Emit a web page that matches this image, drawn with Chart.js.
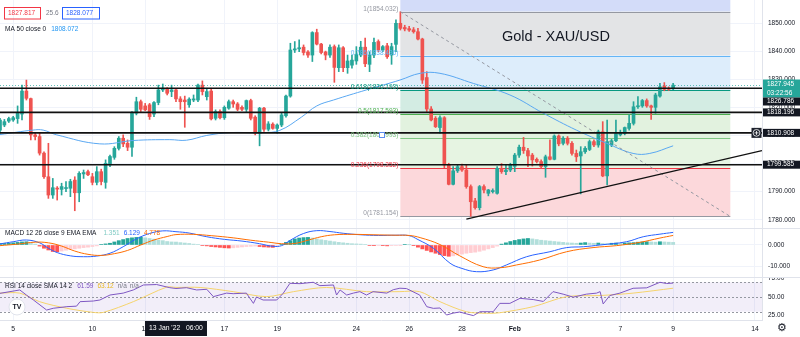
<!DOCTYPE html>
<html>
<head>
<meta charset="utf-8">
<script src="https://cdn.jsdelivr.net/npm/chart.js@4.4.1/dist/chart.umd.min.js"></script>
<style>
html, body { margin: 0; padding: 0; background: #fff; }
#wrap { position: relative; width: 800px; height: 337px; overflow: hidden; }
canvas { position: absolute; left: 0; }
</style>
</head>
<body>
<div id="wrap">
  <canvas id="price" width="800" height="228" style="top:0"></canvas>
  <canvas id="macd" width="800" height="49" style="top:228px"></canvas>
  <canvas id="rsi" width="800" height="60" style="top:277px"></canvas>
</div>
<script>
// ---- data (4h candles, index 0 = left edge) ----
// [open, high, low, close]
const ohlc = [
  [1811.9,1816.1,1810.8,1815.5],[1813.7,1815.7,1813.1,1814.9],[1815.1,1816.5,1814.6,1816.0],[1815.5,1816.8,1815.0,1816.3],
  [1816.0,1820.5,1814.3,1817.9],[1817.6,1827.9,1815.5,1825.8],[1825.8,1829.7,1822.6,1823.2],[1823.1,1823.3,1808.4,1810.2],
  [1810.2,1810.8,1808.4,1809.6],[1809.6,1810.8,1803.0,1803.7],[1803.7,1804.2,1794.7,1795.3],[1795.3,1807.2,1787.6,1788.8],
  [1788.8,1794.7,1787.6,1791.4],[1791.2,1791.8,1787.0,1790.9],[1790.8,1793.0,1788.8,1791.8],[1791.1,1793.6,1790.0,1791.3],
  [1791.2,1794.4,1788.2,1793.6],[1794.1,1795.3,1783.2,1789.6],[1789.6,1797.1,1786.4,1796.5],[1796.3,1797.7,1794.7,1796.8],
  [1797.1,1797.7,1795.7,1796.0],[1795.3,1796.5,1792.4,1793.3],[1793.3,1798.9,1792.4,1797.1],[1797.1,1798.0,1792.4,1793.6],
  [1793.3,1801.3,1791.2,1800.1],[1799.5,1803.0,1798.9,1802.5],[1802.2,1806.0,1801.5,1805.4],[1805.4,1809.6,1804.8,1809.0],
  [1809.0,1810.2,1806.0,1807.0],[1807.2,1808.4,1804.6,1805.8],[1805.8,1818.5,1802.5,1817.9],[1817.9,1823.6,1817.3,1822.0],
  [1822.0,1822.6,1818.5,1819.3],[1820.5,1821.4,1818.8,1819.1],[1820.9,1821.4,1815.7,1816.7],[1817.6,1822.0,1816.7,1821.7],
  [1821.7,1827.9,1820.9,1826.2],[1826.2,1828.3,1825.6,1826.8],[1826.4,1827.0,1824.4,1825.0],[1825.6,1827.9,1823.8,1826.2],
  [1826.2,1826.8,1822.0,1823.0],[1823.0,1823.8,1819.3,1822.0],[1822.6,1824.0,1812.9,1822.0],[1820.9,1823.4,1820.0,1822.9],
  [1822.6,1824.4,1822.0,1823.0],[1822.6,1828.3,1822.0,1827.9],[1827.9,1829.4,1824.4,1825.6],[1823.8,1826.8,1822.6,1825.6],
  [1825.8,1826.8,1815.5,1815.9],[1816.1,1819.1,1815.5,1818.5],[1818.5,1819.1,1815.9,1816.3],[1816.3,1820.5,1815.7,1820.0],
  [1819.7,1822.6,1819.3,1822.0],[1822.0,1822.6,1820.0,1821.2],[1821.2,1821.7,1818.8,1819.3],[1820.0,1820.5,1818.8,1819.3],
  [1819.3,1822.6,1818.5,1822.4],[1822.4,1822.9,1815.5,1816.1],[1816.5,1817.0,1810.2,1810.8],[1810.8,1820.0,1806.3,1819.7],
  [1819.7,1820.0,1811.4,1812.2],[1812.2,1814.9,1811.6,1814.1],[1814.0,1814.5,1812.2,1812.5],[1812.5,1814.1,1810.8,1813.7],
  [1813.7,1817.9,1813.1,1817.3],[1817.0,1824.4,1816.5,1824.0],[1824.0,1842.8,1823.6,1840.4],[1840.4,1843.4,1839.5,1840.8],
  [1840.8,1844.0,1839.8,1841.2],[1841.4,1842.2,1838.6,1839.5],[1839.7,1840.2,1837.8,1838.6],[1838.6,1846.9,1836.3,1846.6],
  [1846.6,1847.8,1842.2,1842.5],[1842.5,1842.8,1839.0,1839.5],[1839.7,1840.0,1836.9,1838.6],[1838.6,1842.2,1837.8,1841.4],
  [1841.6,1842.2,1828.9,1834.2],[1834.1,1842.2,1832.7,1841.2],[1841.2,1841.6,1832.7,1834.1],[1834.1,1838.6,1832.1,1836.5],
  [1835.0,1838.6,1833.9,1836.8],[1836.5,1841.6,1835.3,1838.9],[1838.6,1843.5,1838.0,1841.4],[1841.4,1844.6,1834.5,1835.5],
  [1835.3,1839.8,1832.7,1838.6],[1838.6,1844.6,1837.7,1843.1],[1843.4,1844.0,1839.8,1840.4],[1840.4,1842.0,1839.8,1841.6],
  [1841.9,1842.8,1837.4,1838.0],[1838.6,1842.8,1835.3,1841.6],[1842.4,1851.1,1839.8,1849.9],[1849.9,1854.0,1847.5,1848.1],
  [1848.4,1849.2,1847.2,1847.9],[1848.0,1848.8,1847.0,1847.5],[1847.6,1848.4,1846.4,1846.9],[1846.9,1848.1,1844.0,1844.3],
  [1844.3,1844.6,1828.5,1829.7],[1830.6,1832.7,1818.5,1819.4],[1819.4,1820.3,1815.2,1815.5],[1816.1,1816.7,1812.8,1813.1],
  [1812.8,1817.0,1810.8,1816.3],[1816.3,1816.7,1798.5,1799.5],[1799.7,1800.1,1792.4,1792.6],[1792.6,1798.9,1792.4,1797.4],
  [1797.4,1799.5,1796.8,1798.9],[1798.9,1799.8,1797.2,1797.7],[1797.7,1799.5,1791.2,1791.8],[1791.8,1792.4,1781.2,1786.4],
  [1786.7,1787.6,1783.8,1784.3],[1784.3,1792.2,1783.5,1791.8],[1791.8,1792.4,1789.5,1790.6],[1789.4,1790.8,1788.5,1790.6],
  [1790.0,1791.0,1789.5,1790.4],[1789.4,1798.9,1789.1,1798.3],[1798.3,1800.0,1796.5,1797.1],[1797.1,1799.5,1796.0,1797.7],
  [1797.7,1800.1,1797.1,1799.5],[1799.0,1803.6,1797.1,1803.0],[1803.0,1806.6,1802.2,1805.8],[1805.8,1809.3,1803.6,1804.6],
  [1804.6,1805.4,1798.9,1802.7],[1803.0,1803.6,1799.1,1801.3],[1801.5,1802.0,1800.2,1800.7],[1800.7,1801.3,1798.3,1798.9],
  [1798.9,1803.0,1795.1,1802.4],[1802.4,1808.4,1801.3,1801.5],[1801.5,1810.2,1801.3,1809.8],[1809.8,1810.2,1806.3,1807.0],
  [1807.2,1809.6,1806.6,1809.0],[1809.0,1809.6,1806.6,1807.2],[1807.2,1807.8,1803.0,1803.6],[1803.6,1804.8,1800.7,1802.4],
  [1802.7,1806.0,1789.2,1804.2],[1804.2,1806.0,1803.6,1805.4],[1805.0,1808.4,1804.6,1807.8],[1807.8,1808.4,1806.0,1806.6],
  [1806.6,1811.9,1805.8,1811.3],[1811.3,1814.9,1795.3,1795.6],[1795.6,1815.5,1792.4,1807.8],[1806.6,1808.6,1806.0,1808.1],
  [1808.1,1815.5,1807.8,1810.7],[1810.2,1811.9,1809.8,1811.0],[1810.7,1813.0,1810.2,1812.8],[1812.5,1817.3,1811.9,1814.3],
  [1814.3,1822.0,1813.7,1820.2],[1820.2,1823.8,1819.6,1820.5],[1820.5,1822.8,1820.0,1822.4],[1822.4,1823.0,1820.0,1820.5],
  [1820.5,1820.8,1815.7,1820.0],[1820.0,1825.0,1817.9,1824.4],[1824.0,1828.5,1823.6,1827.3],[1827.6,1828.8,1825.9,1826.4],
  [1826.8,1827.3,1826.0,1826.4],[1826.6,1828.5,1826.3,1827.9]
];

// MA 50 (index, value)
const ma50 = [
  [0,1810.3],[7.5,1811.9],[9.8,1811.9],[12.9,1810.2],[22.7,1807.0],[30.3,1808.2],[38.6,1808.5],[42.4,1808.3],
  [47,1810.0],[52.3,1811.0],[59.8,1811.0],[63.6,1811.8],[68.5,1816.5],[72,1820.5],[75.8,1822.6],[83.3,1826.2],
  [90.9,1829.7],[95.5,1832.1],[100,1832.1],[107.6,1828.5],[115.9,1824.4],[123.5,1817.9],[131,1811.9],
  [137.9,1807.2],[143.9,1803.6],[147.7,1803.6],[153,1806.3]
];

// MACD 12 26 9
const macdLine = [
  [0,0.5],[3,1.5],[6,2.3],[9,1.0],[11,-1.5],[13,-3.5],[16,-5.0],[19,-5.4],[22,-5.1],[25,-3.8],[28,-0.8],
  [31,2.8],[34,5.3],[37,6.5],[40,6.13],[43,5.5],[47,3.8],[51,2.6],[55,1.8],[59,0.6],[62,-0.6],[64,-0.3],
  [66,2.2],[69,5.3],[72,6.6],[75,6.2],[78,5.4],[82,4.7],[86,4.4],[90,4.5],[93,4.3],[95,2.5],[98.5,-1.5],
  [102.3,-8.4],[105,-10.8],[108.3,-12.3],[112.1,-11.5],[115.1,-9.2],[119.7,-5.4],[125,-3.1],[128.8,-1.2],
  [132.6,-0.8],[136.4,0],[142.4,1.5],[146.2,3.8],[150,5.0],[153,5.8]
];
const signalLine = [
  [0,-0.3],[4,0.4],[8,1.3],[11,1.0],[14,-0.5],[17,-2.8],[20,-4.3],[23,-4.8],[26,-4.0],[29,-2.5],[32,0],
  [35,2.3],[38,3.9],[40,4.78],[44,4.9],[48,4.3],[53,3.3],[57,2.2],[61,1.3],[64,0.6],[67,0.7],[70,2.2],
  [73,3.8],[76,4.7],[80,4.9],[85,4.7],[90,4.5],[93,4.4],[95.5,3.4],[100,0.2],[104.5,-5.0],[109.8,-10.0],
  [113.6,-10.5],[117.4,-9.2],[122.7,-6.9],[128.8,-3.1],[134.8,-1.2],[140.1,-0.3],[145.4,1.2],[150,3.2],[153,4.4]
];
const histogram = [
  0.6,0.7,0.8,1.0,1.2,1.4,1.5,1.0,0.4,-0.5,-1.5,-2.3,-3.0,-3.1,-2.8,-2.4,-2.0,-1.8,-1.5,-1.2,
  -1.0,-0.7,-0.4,0.2,0.5,0.8,1.4,2.0,2.5,3.0,3.3,3.5,3.6,3.3,3.0,2.7,2.3,2.0,1.6,1.4,
  1.35,1.1,0.9,0.7,0.4,0.2,-0.2,-0.4,-0.7,-0.9,-1.1,-1.3,-1.4,-1.3,-1.1,-0.9,-0.7,-0.6,-0.5,-0.7,
  -0.9,-1.0,-1.1,-0.6,0.3,1.2,2.0,2.8,3.2,3.4,3.5,3.2,2.8,2.4,2.1,1.8,1.5,1.2,1.0,0.8,
  0.6,0.5,0.4,0.2,-0.2,-0.3,-0.2,-0.3,-0.4,-0.3,-0.2,-0.1,0.2,0.1,-0.3,-1.0,-1.8,-2.5,-3.2,-3.8,
  -4.4,-4.9,-5.2,-5.0,-4.6,-4.2,-3.8,-3.5,-3.3,-2.9,-2.4,-1.8,-1.2,-0.5,0.4,1.0,1.6,2.1,2.5,2.8,
  3.0,2.8,2.5,2.2,2.0,1.8,1.6,1.4,1.2,1.0,0.9,0.8,0.9,1.1,0.9,0.8,0.9,0.7,0.6,0.8,
  0.9,0.8,0.9,1.0,1.1,1.3,1.4,1.5,1.4,1.3,1.5,1.4,1.3,1.2
];

// RSI 14 and its SMA 14
const rsiLine = [
  [0,55],[4.5,59.6],[6,52.7],[7.6,45.9],[10.6,32.2],[12.1,34.6],[15.2,36.8],[17.4,37.5],[18.2,43.6],
  [21.2,44.5],[22.7,45.9],[25,52.7],[28,55.3],[30.3,59.6],[32.6,66.4],[35.6,67],[38.6,62.7],[40,61.6],
  [42.4,62.7],[44.7,59.6],[47,60.5],[48.5,50.5],[51.5,55.3],[53,54.5],[56,55.3],[57.6,41.3],[58.3,50],
  [59.8,45.9],[62.9,45.9],[64.4,55.3],[65.9,68.7],[68.2,68.2],[71.2,70.1],[72.7,65.5],[75.8,66.4],
  [76.5,52.7],[77.3,59.6],[78.8,52.7],[80.3,55.3],[81.8,57.3],[83.3,52.7],[84.8,57.3],[87.9,55.3],
  [89.4,60],[90.9,62],[92.4,61.5],[95.4,52.7],[97,36.8],[98.5,34.5],[100,35],[101.5,25.4],[103,28],
  [104.5,29.5],[106,27],[107.6,24.6],[109.1,29.9],[112.1,29.9],[113.6,41.3],[115.9,41.3],[118.2,48.2],
  [121.2,46.5],[123.5,43.9],[125.7,57.3],[128,53.9],[130.3,49.8],[133.3,53.9],[135.6,55.3],[136.4,57.3],
  [137.1,40.5],[138.6,52],[140.9,55.3],[143.9,61.9],[147,62.5],[150,70.1],[151.5,68.4],[153,69]
];
const rsiSma = [
  [0,55.3],[4.5,55.3],[9,43.6],[15.2,34.6],[21.2,29],[23.5,29],[30.3,43.6],[37.9,63.5],[40,63.1],
  [45.5,63],[53,57.3],[60.6,50.5],[66.7,57.3],[74.2,63],[83.3,57.3],[90.9,57.3],[95.4,57.3],[100,43.6],
  [106,29.9],[110.6,27.7],[113.6,28.5],[121.2,36.8],[128.8,50.5],[136.4,52],[143.9,55.3],[153,62]
];

// time axis
const tickIdx = [3, 21, 33, 51, 63, 81, 93, 105, 117, 129, 141, 153, 171.6];
const tickText = ['5', '10', '12', '17', '19', '24', '26', '28', 'Feb', '3', '7', '9', '14'];
const cursorIdx = 40;
const cursorText = "13 Jan '22   06:00";

// price levels
const priceTicks = [1780, 1790, 1800, 1810, 1820, 1830, 1840, 1850];
const fibRatios = ['1', '0.786', '0.618', '0.5', '0.382', '0.236', '0'];
const fibPrices = [1854.032, 1838.436, 1826.193, 1817.593, 1808.993, 1798.352, 1781.154];
const fibFrom = 91, fibTo = 166;
const hLines = [1826.786, 1818.196, 1810.908, 1799.585];
const trendLine = [[106, 1780.2], [173.2, 1804.6]];
const lastPrice = 1827.945;
const countdown = '03:22:56';

// ---- styles ----
const FONT = '"Liberation Sans", Arial, sans-serif';
const UP = '#26a69a', DN = '#ef5350';
const X_MAX = 173.2;
const fibTopFill = '#d3dcf9';
const fibFill = ['#e3e4e6', '#ddedfb', '#d3ece3', '#e2f2df', '#e6f4e2', '#fcd8db'];
const fibLine = ['#9598a1', '#64b5f6', '#089981', '#4caf50', '#81c784', '#f23645', '#9598a1'];

Chart.defaults.font.family = FONT;
Chart.defaults.animation = false;

function xAxis(height, labels) {
  return {
    type: 'linear', min: 0, max: X_MAX, offset: false,
    afterBuildTicks: s => { s.ticks = tickIdx.map(v => ({ value: v })); },
    ticks: {
      display: labels, autoSkip: false, maxRotation: 0, padding: 5, color: '#131722',
      font: c => ({ size: 6.8, family: FONT, weight: tickText[c.index] === 'Feb' ? 'bold' : 'normal' }),
      callback: (v, i) => tickText[i]
    },
    grid: { color: '#f0f3fa', drawTicks: false, offset: false },
    border: { display: labels, color: '#e0e3eb' },
    afterFit: s => { s.height = height; s.paddingLeft = 0; s.paddingRight = 0; }
  };
}

function yAxis(min, max, vals, dec, grid) {
  return {
    position: 'right', min: min, max: max,
    afterBuildTicks: s => { s.ticks = vals.map(v => ({ value: v })); },
    ticks: { color: '#131722', padding: 6, font: { size: 6.5 }, callback: v => v.toFixed(dec) },
    grid: { display: grid, color: '#f0f3fa', drawTicks: false },
    border: { color: '#e0e3eb' },
    afterFit: s => { s.width = 38; s.paddingTop = 0; s.paddingBottom = 0; }
  };
}

const pts = arr => arr.map(p => ({ x: p[0], y: p[1] }));
const candleColor = ohlc.map(c => c[3] >= c[0] ? UP : DN);

function label(ctx, text, x, y, color, size, align) {
  ctx.font = (size || 6.5) + 'px ' + FONT;
  ctx.fillStyle = color;
  ctx.textAlign = align || 'left';
  ctx.textBaseline = 'middle';
  ctx.fillText(text, x, y);
}

// a row of coloured legend texts, laid out one after another
function labelRow(ctx, items, x, y) {
  ctx.font = '6.5px ' + FONT;
  items.forEach(([t, c, gap]) => {
    label(ctx, t, x, y, c);
    x += ctx.measureText(t).width + (gap || 4);
  });
}

// ---- price pane ----
const pricePane = {
  id: 'pricePane',
  beforeDatasetsDraw(chart) {
    const { ctx, chartArea: a, scales: { x, y } } = chart;
    const x0 = x.getPixelForValue(fibFrom), x1 = x.getPixelForValue(fibTo);
    ctx.save();
    ctx.fillStyle = fibTopFill;
    ctx.fillRect(x0, a.top, x1 - x0, y.getPixelForValue(fibPrices[0]) - a.top);
    for (let i = 0; i < fibPrices.length - 1; i++) {
      const ya = y.getPixelForValue(fibPrices[i]), yb = y.getPixelForValue(fibPrices[i + 1]);
      ctx.fillStyle = fibFill[i];
      ctx.fillRect(x0, ya, x1 - x0, yb - ya);
    }
    ctx.lineWidth = 1;
    fibPrices.forEach((p, i) => {
      const yy = Math.round(y.getPixelForValue(p)) + 0.5;
      ctx.strokeStyle = fibLine[i];
      ctx.beginPath(); ctx.moveTo(x0, yy); ctx.lineTo(x1, yy); ctx.stroke();
    });
    ctx.restore();
  },
  afterDatasetsDraw(chart) {
    const { ctx, chartArea: a, scales: { x, y } } = chart;
    ctx.save();
    // current price dotted line
    const yl = Math.round(y.getPixelForValue(lastPrice)) + 0.5;
    ctx.strokeStyle = 'rgba(38,166,154,0.7)';
    ctx.setLineDash([1, 2]);
    ctx.lineWidth = 1;
    ctx.beginPath(); ctx.moveTo(a.left, yl); ctx.lineTo(a.right, yl); ctx.stroke();
    ctx.setLineDash([]);
    // horizontal support / resistance lines
    ctx.strokeStyle = '#111';
    ctx.lineWidth = 1.6;
    hLines.forEach(p => {
      const yy = y.getPixelForValue(p);
      ctx.beginPath(); ctx.moveTo(a.left, yy); ctx.lineTo(a.right, yy); ctx.stroke();
    });
    // fib labels
    const xl = x.getPixelForValue(fibFrom) - 2;
    fibPrices.forEach((p, i) => {
      ctx.font = '6.5px ' + FONT;
      ctx.fillStyle = fibLine[i];
      ctx.textAlign = 'right';
      ctx.textBaseline = 'alphabetic';
      ctx.fillText(fibRatios[i] + '(' + p.toFixed(3) + ')', xl, y.getPixelForValue(p) - 1);
    });
    // handle square
    ctx.fillStyle = '#fff';
    ctx.strokeStyle = '#5b8def';
    ctx.lineWidth = 1;
    ctx.fillRect(379.5, 132.5, 5, 5);
    ctx.strokeRect(379.5, 132.5, 5, 5);
    // header
    ctx.strokeStyle = '#f23645';
    ctx.strokeRect(4.5, 7.5, 36, 11.5);
    label(ctx, '1827.817', 8, 13.5, '#f23645');
    label(ctx, '25.6', 46, 13.5, '#787b86');
    ctx.strokeStyle = '#2962ff';
    ctx.strokeRect(62.5, 7.5, 37, 11.5);
    label(ctx, '1828.077', 66, 13.5, '#2962ff');
    labelRow(ctx, [['MA 50 close 0', '#131722', 5], ['1808.072', '#2196f3']], 5, 29);
    // title
    label(ctx, 'Gold - XAU/USD', 556, 36.5, '#131722', 14.5, 'center');
    ctx.restore();
  },
  afterDraw(chart) {
    const { ctx, chartArea: a, scales: { y } } = chart;
    const bx = a.right + 1, bw = 800 - bx;
    ctx.save();
    // last price box
    const yl = y.getPixelForValue(lastPrice);
    ctx.fillStyle = UP;
    ctx.fillRect(bx, yl - 5.5, bw, 18);
    label(ctx, lastPrice.toFixed(3), bx + 4, yl - 1, '#fff');
    label(ctx, countdown, bx + 4, yl + 8, '#fff');
    // line labels
    hLines.forEach((p, i) => {
      let yy = y.getPixelForValue(p);
      if (i === 0) yy = yl + 16.5;
      ctx.fillStyle = '#131722';
      ctx.fillRect(bx, yy - 4, bw, 8);
      label(ctx, p.toFixed(3), bx + 4, yy, '#fff');
    });
    // plus icon next to the 1810.908 box
    const yp = y.getPixelForValue(hLines[2]);
    ctx.fillStyle = '#1e222d';
    ctx.fillRect(a.right - 10.5, yp - 5, 10, 10);
    ctx.strokeStyle = '#fff';
    ctx.lineWidth = 0.8;
    ctx.beginPath(); ctx.arc(a.right - 5.5, yp, 3.4, 0, Math.PI * 2); ctx.stroke();
    ctx.beginPath();
    ctx.moveTo(a.right - 7.5, yp); ctx.lineTo(a.right - 3.5, yp);
    ctx.moveTo(a.right - 5.5, yp - 2); ctx.lineTo(a.right - 5.5, yp + 2);
    ctx.stroke();
    ctx.restore();
  }
};

new Chart(document.getElementById('price'), {
  type: 'bar',
  data: {
    datasets: [
      { type: 'line', data: pts(trendLine), borderColor: '#111', borderWidth: 1.4, pointRadius: 0, order: 1 },
      { type: 'line', data: pts([[fibFrom, fibPrices[0]], [fibTo, fibPrices[fibPrices.length - 1]]]),
        borderColor: '#9598a1', borderWidth: 1, borderDash: [3, 3], pointRadius: 0, order: 2 },
      { type: 'line', data: pts(ma50), borderColor: '#5aa8f2', borderWidth: 1, pointRadius: 0, tension: 0.4, order: 3 },
      { data: ohlc.map((c, i) => ({ x: i, y: [Math.min(c[0], c[3]), Math.max(c[0], c[3])] })),
        backgroundColor: candleColor, barThickness: 3, minBarLength: 1, grouped: false, order: 4 },
      { data: ohlc.map((c, i) => ({ x: i, y: [c[2], c[1]] })),
        backgroundColor: candleColor, barThickness: 1, grouped: false, order: 5 }
    ]
  },
  options: {
    responsive: false, devicePixelRatio: 1, animation: false,
    layout: { padding: 0 },
    plugins: { legend: { display: false }, tooltip: { enabled: false } },
    scales: { x: xAxis(0, false), y: yAxis(1777.06, 1858.19, priceTicks, 3, true) }
  },
  plugins: [pricePane]
});

// ---- MACD pane ----
const histColor = histogram.map((v, i) => {
  const p = i > 0 ? histogram[i - 1] : v;
  if (v >= 0) return v >= p ? '#26a69a' : '#b2dfdb';
  return v < p ? '#ff5252' : '#ffcdd2';
});

const macdPane = {
  id: 'macdPane',
  afterDraw(chart) {
    const ctx = chart.ctx;
    ctx.save();
    ctx.strokeStyle = '#e0e3eb';
    ctx.lineWidth = 1;
    ctx.beginPath(); ctx.moveTo(0, 0.5); ctx.lineTo(800, 0.5); ctx.stroke();
    labelRow(ctx, [
      ['MACD 12 26 close 9 EMA EMA', '#131722', 7],
      ['1.351', '#80cbc4'], ['6.129', '#2962ff'], ['4.778', '#ff6d00']
    ], 5, 5);
    ctx.restore();
  }
};

new Chart(document.getElementById('macd'), {
  type: 'bar',
  data: {
    datasets: [
      { type: 'line', data: pts(signalLine), borderColor: '#ff6d00', borderWidth: 1, pointRadius: 0, tension: 0.4, order: 1 },
      { type: 'line', data: pts(macdLine), borderColor: '#2962ff', borderWidth: 1, pointRadius: 0, tension: 0.4, order: 2 },
      { data: histogram.map((v, i) => ({ x: i, y: v })), backgroundColor: histColor,
        barThickness: 3.2, grouped: false, order: 3 }
    ]
  },
  options: {
    responsive: false, devicePixelRatio: 1, animation: false,
    layout: { padding: 0 },
    plugins: { legend: { display: false }, tooltip: { enabled: false } },
    scales: { x: xAxis(0, false), y: yAxis(-14.75, 7.83, [0, -10], 3, true) }
  },
  plugins: [macdPane]
});

// ---- RSI pane + time axis ----
const rsiPane = {
  id: 'rsiPane',
  beforeDatasetsDraw(chart) {
    const { ctx, chartArea: a, scales: { y } } = chart;
    const y70 = y.getPixelForValue(70), y30 = y.getPixelForValue(30), y50 = y.getPixelForValue(50);
    ctx.save();
    ctx.fillStyle = 'rgba(126,87,194,0.1)';
    ctx.fillRect(a.left, y70, a.right - a.left, y30 - y70);
    ctx.strokeStyle = '#9598a1';
    ctx.lineWidth = 1;
    ctx.setLineDash([2, 2]);
    [y70, y50, y30].forEach(yy => {
      const r = Math.round(yy) + 0.5;
      ctx.beginPath(); ctx.moveTo(a.left, r); ctx.lineTo(a.right, r); ctx.stroke();
    });
    ctx.restore();
  },
  afterDraw(chart) {
    const { ctx, chartArea: a, scales: { x } } = chart;
    ctx.save();
    ctx.strokeStyle = '#e0e3eb';
    ctx.lineWidth = 1;
    ctx.beginPath(); ctx.moveTo(0, 0.5); ctx.lineTo(800, 0.5); ctx.stroke();
    labelRow(ctx, [
      ['RSI 14 close SMA 14 2', '#131722', 5],
      ['61.59', '#7e57c2'], ['63.12', '#e8b923'], ['n/a', '#787b86', 3], ['n/a', '#787b86']
    ], 5, 9.5);
    // logo
    ctx.fillStyle = '#fff';
    ctx.strokeStyle = '#e0e3eb';
    ctx.beginPath(); ctx.arc(17, 30, 8, 0, Math.PI * 2); ctx.fill(); ctx.stroke();
    ctx.font = 'bold 7px ' + FONT;
    ctx.fillStyle = '#131722';
    ctx.textAlign = 'center';
    ctx.textBaseline = 'middle';
    ctx.fillText('TV', 17, 30.5);
    // crosshair time label
    const xc = x.getPixelForValue(cursorIdx);
    ctx.fillStyle = '#131722';
    ctx.fillRect(xc - 31, a.bottom + 1, 62, 15);
    label(ctx, cursorText, xc, a.bottom + 8.5, '#fff', 6.8, 'center');
    // settings gear
    label(ctx, '\u2699', 782, 51, '#131722', 11, 'center');
    ctx.restore();
  }
};

new Chart(document.getElementById('rsi'), {
  type: 'line',
  data: {
    datasets: [
      { data: pts(rsiLine), borderColor: '#7e57c2', borderWidth: 1, pointRadius: 0, order: 1 },
      { data: pts(rsiSma), borderColor: '#f5d36b', borderWidth: 1, pointRadius: 0, tension: 0.3, order: 2 }
    ]
  },
  options: {
    responsive: false, devicePixelRatio: 1, animation: false,
    layout: { padding: 0 },
    plugins: { legend: { display: false }, tooltip: { enabled: false } },
    scales: { x: xAxis(17, true), y: yAxis(18.6, 77.3, [25, 50, 75], 2, false) }
  },
  plugins: [rsiPane]
});
</script>
</body>
</html>
